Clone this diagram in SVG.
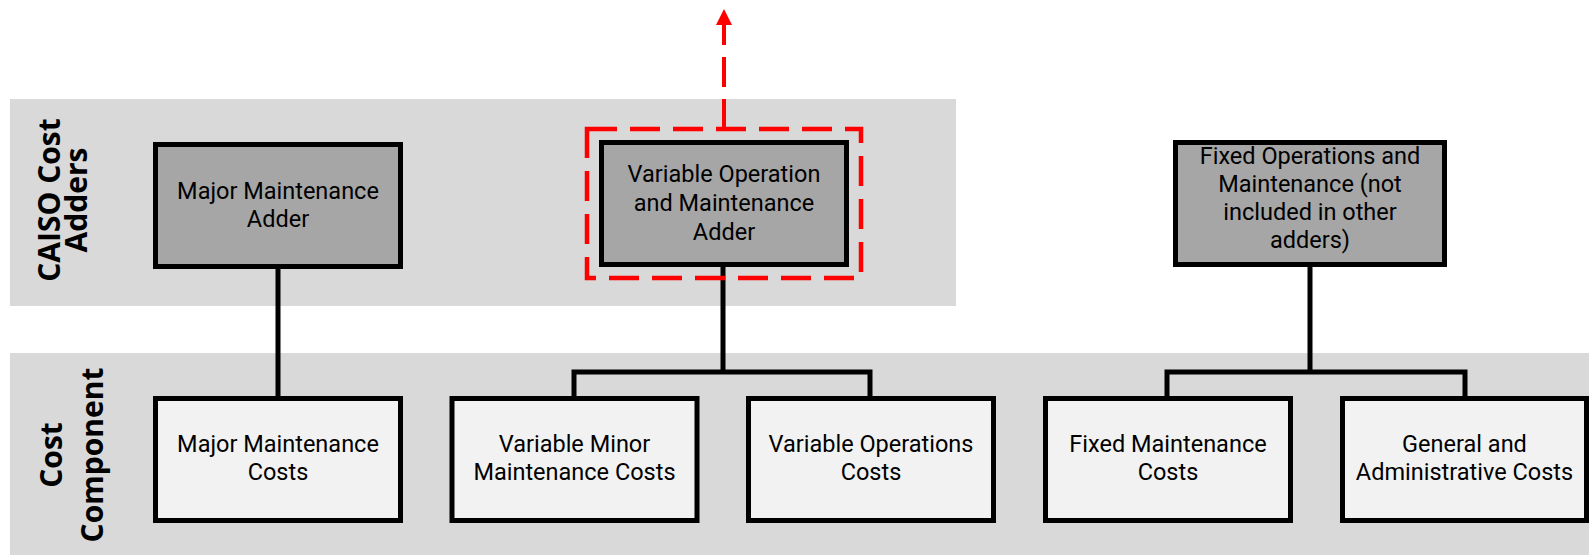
<svg xmlns="http://www.w3.org/2000/svg" width="1589" height="555" viewBox="0 0 1589 555">
  <defs>
    <style>
      .band { fill: #d9d9d9; }
      .adder rect { fill: #a6a6a6; stroke: #000; stroke-width: 5; }
      .cost rect { fill: #f2f2f2; stroke: #000; stroke-width: 5; }
      .lbl { font-family: Roboto, "Liberation Sans", sans-serif; font-size: 23.5px; fill: #000; text-anchor: middle; }
      .row { font-family: "Open Sans", "Liberation Sans", sans-serif; font-weight: 700; font-size: 30px; fill: #000; text-anchor: middle; }
      .conn { fill: none; stroke: #000; stroke-width: 5; stroke-linejoin: miter; }
      .hl { fill: none; stroke: #ff0000; stroke-width: 4.5; stroke-dasharray: 30 13; }
      .hl-arrow { fill: none; stroke: #ff0000; stroke-width: 4; stroke-dasharray: 30 12; }
    </style>
    <marker id="redHead" viewBox="0 0 16 16" refX="0" refY="8" markerWidth="16" markerHeight="16" markerUnits="userSpaceOnUse" orient="auto">
      <path d="M0,0 L16,8 L0,16 Z" fill="#ff0000"/>
    </marker>
  </defs>

  <!-- row bands -->
  <rect class="band" x="10" y="99" width="946" height="207"/>
  <rect class="band" x="10" y="353" width="1579" height="202"/>

  <!-- row titles -->
  <g id="row-adders">
    <text class="row" transform="translate(60,200) rotate(-90)">CAISO Cost</text>
    <text class="row" transform="translate(87,200) rotate(-90)">Adders</text>
  </g>
  <g id="row-components">
    <text class="row" transform="translate(62,455) rotate(-90)">Cost</text>
    <text class="row" transform="translate(103,455) rotate(-90)">Component</text>
  </g>

  <!-- connectors -->
  <g id="connectors">
    <path class="conn" d="M278,267 V398"/>
    <path class="conn" d="M723,265 V372 M574,398 V372 H870 V398"/>
    <path class="conn" d="M1310,265 V372 M1167,398 V372 H1465 V398"/>
    <path class="hl-arrow" d="M724,129 V25" marker-end="url(#redHead)"/>
  </g>

  <!-- adders -->
  <g id="major-maintenance-adder" class="adder">
    <rect x="155.5" y="144.5" width="245" height="122"/>
    <text class="lbl"><tspan x="278" y="199">Major Maintenance</tspan><tspan x="278" y="227">Adder</tspan></text>
  </g>
  <g id="variable-om-adder" class="adder">
    <rect x="601.5" y="142.5" width="245" height="122"/>
    <text class="lbl"><tspan x="724" y="182">Variable Operation</tspan><tspan x="724" y="211">and Maintenance</tspan><tspan x="724" y="240">Adder</tspan></text>
  </g>
  <rect id="variable-om-highlight" class="hl" x="587" y="129" width="274" height="149"/>
  <g id="fixed-om-adder" class="adder">
    <rect x="1175.5" y="142.5" width="269" height="122"/>
    <text class="lbl"><tspan x="1310" y="164">Fixed Operations and</tspan><tspan x="1310" y="192">Maintenance (not</tspan><tspan x="1310" y="220">included in other</tspan><tspan x="1310" y="248">adders)</tspan></text>
  </g>

  <!-- cost components -->
  <g id="major-maintenance-costs" class="cost">
    <rect x="155.5" y="398.5" width="245" height="122"/>
    <text class="lbl"><tspan x="278" y="452">Major Maintenance</tspan><tspan x="278" y="480">Costs</tspan></text>
  </g>
  <g id="variable-minor-maintenance-costs" class="cost">
    <rect x="452" y="398.5" width="245" height="122"/>
    <text class="lbl"><tspan x="574.5" y="452">Variable Minor</tspan><tspan x="574.5" y="480">Maintenance Costs</tspan></text>
  </g>
  <g id="variable-operations-costs" class="cost">
    <rect x="748.5" y="398.5" width="245" height="122"/>
    <text class="lbl"><tspan x="871" y="452">Variable Operations</tspan><tspan x="871" y="480">Costs</tspan></text>
  </g>
  <g id="fixed-maintenance-costs" class="cost">
    <rect x="1045.5" y="398.5" width="245" height="122"/>
    <text class="lbl"><tspan x="1168" y="452">Fixed Maintenance</tspan><tspan x="1168" y="480">Costs</tspan></text>
  </g>
  <g id="general-administrative-costs" class="cost">
    <rect x="1342.5" y="398.5" width="244" height="122"/>
    <text class="lbl"><tspan x="1464.5" y="452">General and</tspan><tspan x="1464.5" y="480">Administrative Costs</tspan></text>
  </g>
</svg>
